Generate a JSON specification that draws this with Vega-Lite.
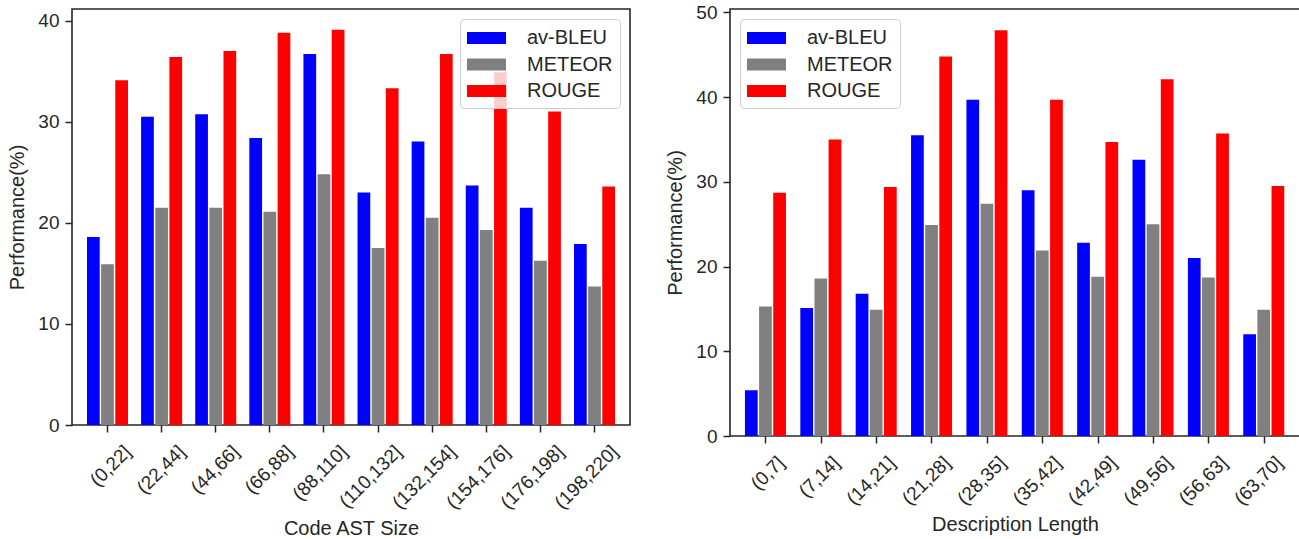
{
  "$schema": "https://vega.github.io/schema/vega-lite/v6.json",
  "background": "white",
  "padding": {"left": 7, "top": 2, "right": 0, "bottom": 0},
  "spacing": 100,
  "bounds": "flush",
  "config": {
    "font": "Liberation Sans",
    "view": {"stroke": "#262626", "strokeWidth": 1.6},
    "axis": {
      "grid": false,
      "domain": false,
      "tickColor": "#262626",
      "tickWidth": 1.5,
      "tickSize": 7,
      "labelColor": "#262626",
      "labelFont": "Liberation Sans",
      "labelFontSize": 19,
      "titleColor": "#262626",
      "titleFont": "Liberation Sans",
      "titleFontSize": 20,
      "titleFontWeight": "normal"
    },
    "legend": {
      "labelFont": "Liberation Sans",
      "labelFontSize": 20,
      "labelColor": "#262626"
    }
  },
  "datasets": {
    "ast": [
      {"group": "(0,22]", "metric": "av-BLEU", "value": 18.6},
      {"group": "(0,22]", "metric": "METEOR", "value": 15.9},
      {"group": "(0,22]", "metric": "ROUGE", "value": 34.1},
      {"group": "(22,44]", "metric": "av-BLEU", "value": 30.5},
      {"group": "(22,44]", "metric": "METEOR", "value": 21.5},
      {"group": "(22,44]", "metric": "ROUGE", "value": 36.4},
      {"group": "(44,66]", "metric": "av-BLEU", "value": 30.75},
      {"group": "(44,66]", "metric": "METEOR", "value": 21.5},
      {"group": "(44,66]", "metric": "ROUGE", "value": 37.0},
      {"group": "(66,88]", "metric": "av-BLEU", "value": 28.4},
      {"group": "(66,88]", "metric": "METEOR", "value": 21.1},
      {"group": "(66,88]", "metric": "ROUGE", "value": 38.8},
      {"group": "(88,110]", "metric": "av-BLEU", "value": 36.7},
      {"group": "(88,110]", "metric": "METEOR", "value": 24.8},
      {"group": "(88,110]", "metric": "ROUGE", "value": 39.1},
      {"group": "(110,132]", "metric": "av-BLEU", "value": 23.0},
      {"group": "(110,132]", "metric": "METEOR", "value": 17.5},
      {"group": "(110,132]", "metric": "ROUGE", "value": 33.3},
      {"group": "(132,154]", "metric": "av-BLEU", "value": 28.05},
      {"group": "(132,154]", "metric": "METEOR", "value": 20.5},
      {"group": "(132,154]", "metric": "ROUGE", "value": 36.7},
      {"group": "(154,176]", "metric": "av-BLEU", "value": 23.7},
      {"group": "(154,176]", "metric": "METEOR", "value": 19.3},
      {"group": "(154,176]", "metric": "ROUGE", "value": 34.9},
      {"group": "(176,198]", "metric": "av-BLEU", "value": 21.5},
      {"group": "(176,198]", "metric": "METEOR", "value": 16.25},
      {"group": "(176,198]", "metric": "ROUGE", "value": 31.0},
      {"group": "(198,220]", "metric": "av-BLEU", "value": 17.9},
      {"group": "(198,220]", "metric": "METEOR", "value": 13.7},
      {"group": "(198,220]", "metric": "ROUGE", "value": 23.6}
    ],
    "desc": [
      {"group": "(0,7]", "metric": "av-BLEU", "value": 5.4},
      {"group": "(0,7]", "metric": "METEOR", "value": 15.3},
      {"group": "(0,7]", "metric": "ROUGE", "value": 28.7},
      {"group": "(7,14]", "metric": "av-BLEU", "value": 15.1},
      {"group": "(7,14]", "metric": "METEOR", "value": 18.6},
      {"group": "(7,14]", "metric": "ROUGE", "value": 35.0},
      {"group": "(14,21]", "metric": "av-BLEU", "value": 16.8},
      {"group": "(14,21]", "metric": "METEOR", "value": 14.9},
      {"group": "(14,21]", "metric": "ROUGE", "value": 29.4},
      {"group": "(21,28]", "metric": "av-BLEU", "value": 35.5},
      {"group": "(21,28]", "metric": "METEOR", "value": 24.9},
      {"group": "(21,28]", "metric": "ROUGE", "value": 44.8},
      {"group": "(28,35]", "metric": "av-BLEU", "value": 39.7},
      {"group": "(28,35]", "metric": "METEOR", "value": 27.4},
      {"group": "(28,35]", "metric": "ROUGE", "value": 47.9},
      {"group": "(35,42]", "metric": "av-BLEU", "value": 29.0},
      {"group": "(35,42]", "metric": "METEOR", "value": 21.9},
      {"group": "(35,42]", "metric": "ROUGE", "value": 39.7},
      {"group": "(42,49]", "metric": "av-BLEU", "value": 22.8},
      {"group": "(42,49]", "metric": "METEOR", "value": 18.8},
      {"group": "(42,49]", "metric": "ROUGE", "value": 34.7},
      {"group": "(49,56]", "metric": "av-BLEU", "value": 32.6},
      {"group": "(49,56]", "metric": "METEOR", "value": 25.0},
      {"group": "(49,56]", "metric": "ROUGE", "value": 42.1},
      {"group": "(56,63]", "metric": "av-BLEU", "value": 21.0},
      {"group": "(56,63]", "metric": "METEOR", "value": 18.7},
      {"group": "(56,63]", "metric": "ROUGE", "value": 35.7},
      {"group": "(63,70]", "metric": "av-BLEU", "value": 12.0},
      {"group": "(63,70]", "metric": "METEOR", "value": 14.9},
      {"group": "(63,70]", "metric": "ROUGE", "value": 29.5}
    ]
  },
  "resolve": {"legend": {"color": "independent"}, "scale": {"color": "independent"}},
  "hconcat": [
    {
      "width": 558,
      "height": 416,
      "data": {"name": "ast"},
      "mark": {"type": "bar"},
      "encoding": {
        "x": {
          "field": "group", "type": "nominal", "sort": null,
          "scale": {"paddingInner": 0.242, "paddingOuter": 0.277},
          "axis": {
            "title": "Code AST Size",
            "labelAngle": -45, "labelAlign": "right", "labelBaseline": "top",
            "labelPadding": 10, "labelOffset": 14, "titlePadding": 6
          }
        },
        "xOffset": {"field": "metric", "type": "nominal", "sort": ["av-BLEU", "METEOR", "ROUGE"], "scale": {"paddingInner": 0.1, "paddingOuter": 0}},
        "y": {
          "field": "value", "type": "quantitative",
          "scale": {"domain": [0, 41.15], "nice": false, "zero": true},
          "axis": {"title": "Performance(%)", "values": [0, 10, 20, 30, 40], "labelPadding": 6, "titlePadding": 10}
        },
        "color": {
          "field": "metric", "type": "nominal",
          "scale": {"domain": ["av-BLEU", "METEOR", "ROUGE"], "range": ["#0000ff", "#808080", "#ff0000"]},
          "legend": {
            "title": null, "orient": "none", "legendX": 388, "legendY": 10,
            "symbolType": "M-1,-0.5H2.25V0.5H-1Z", "symbolSize": 576, "symbolStrokeWidth": 0,
            "labelOffset": 36, "rowPadding": 4.5, "padding": 7,
            "fillColor": "rgba(255,255,255,0.8)", "strokeColor": "#cccccc", "cornerRadius": 4
          }
        }
      }
    },
    {
      "width": 570,
      "height": 427,
      "data": {"name": "desc"},
      "mark": {"type": "bar"},
      "encoding": {
        "x": {
          "field": "group", "type": "nominal", "sort": null,
          "scale": {"paddingInner": 0.245, "paddingOuter": 0.27},
          "axis": {
            "title": "Description Length",
            "labelAngle": -45, "labelAlign": "right", "labelBaseline": "top",
            "labelPadding": 10, "labelOffset": 9, "titlePadding": 6
          }
        },
        "xOffset": {"field": "metric", "type": "nominal", "sort": ["av-BLEU", "METEOR", "ROUGE"], "scale": {"paddingInner": 0.1, "paddingOuter": 0}},
        "y": {
          "field": "value", "type": "quantitative",
          "scale": {"domain": [0, 50.4], "nice": false, "zero": true},
          "axis": {"title": "Performance(%)", "values": [0, 10, 20, 30, 40, 50], "labelPadding": 6, "titlePadding": 10}
        },
        "color": {
          "field": "metric", "type": "nominal",
          "scale": {"domain": ["av-BLEU", "METEOR", "ROUGE"], "range": ["#0000ff", "#808080", "#ff0000"]},
          "legend": {
            "title": null, "orient": "none", "legendX": 10, "legendY": 10,
            "symbolType": "M-1,-0.5H2.25V0.5H-1Z", "symbolSize": 576, "symbolStrokeWidth": 0,
            "labelOffset": 36, "rowPadding": 4.5, "padding": 7,
            "fillColor": "rgba(255,255,255,0.8)", "strokeColor": "#cccccc", "cornerRadius": 4
          }
        }
      }
    }
  ]
}
